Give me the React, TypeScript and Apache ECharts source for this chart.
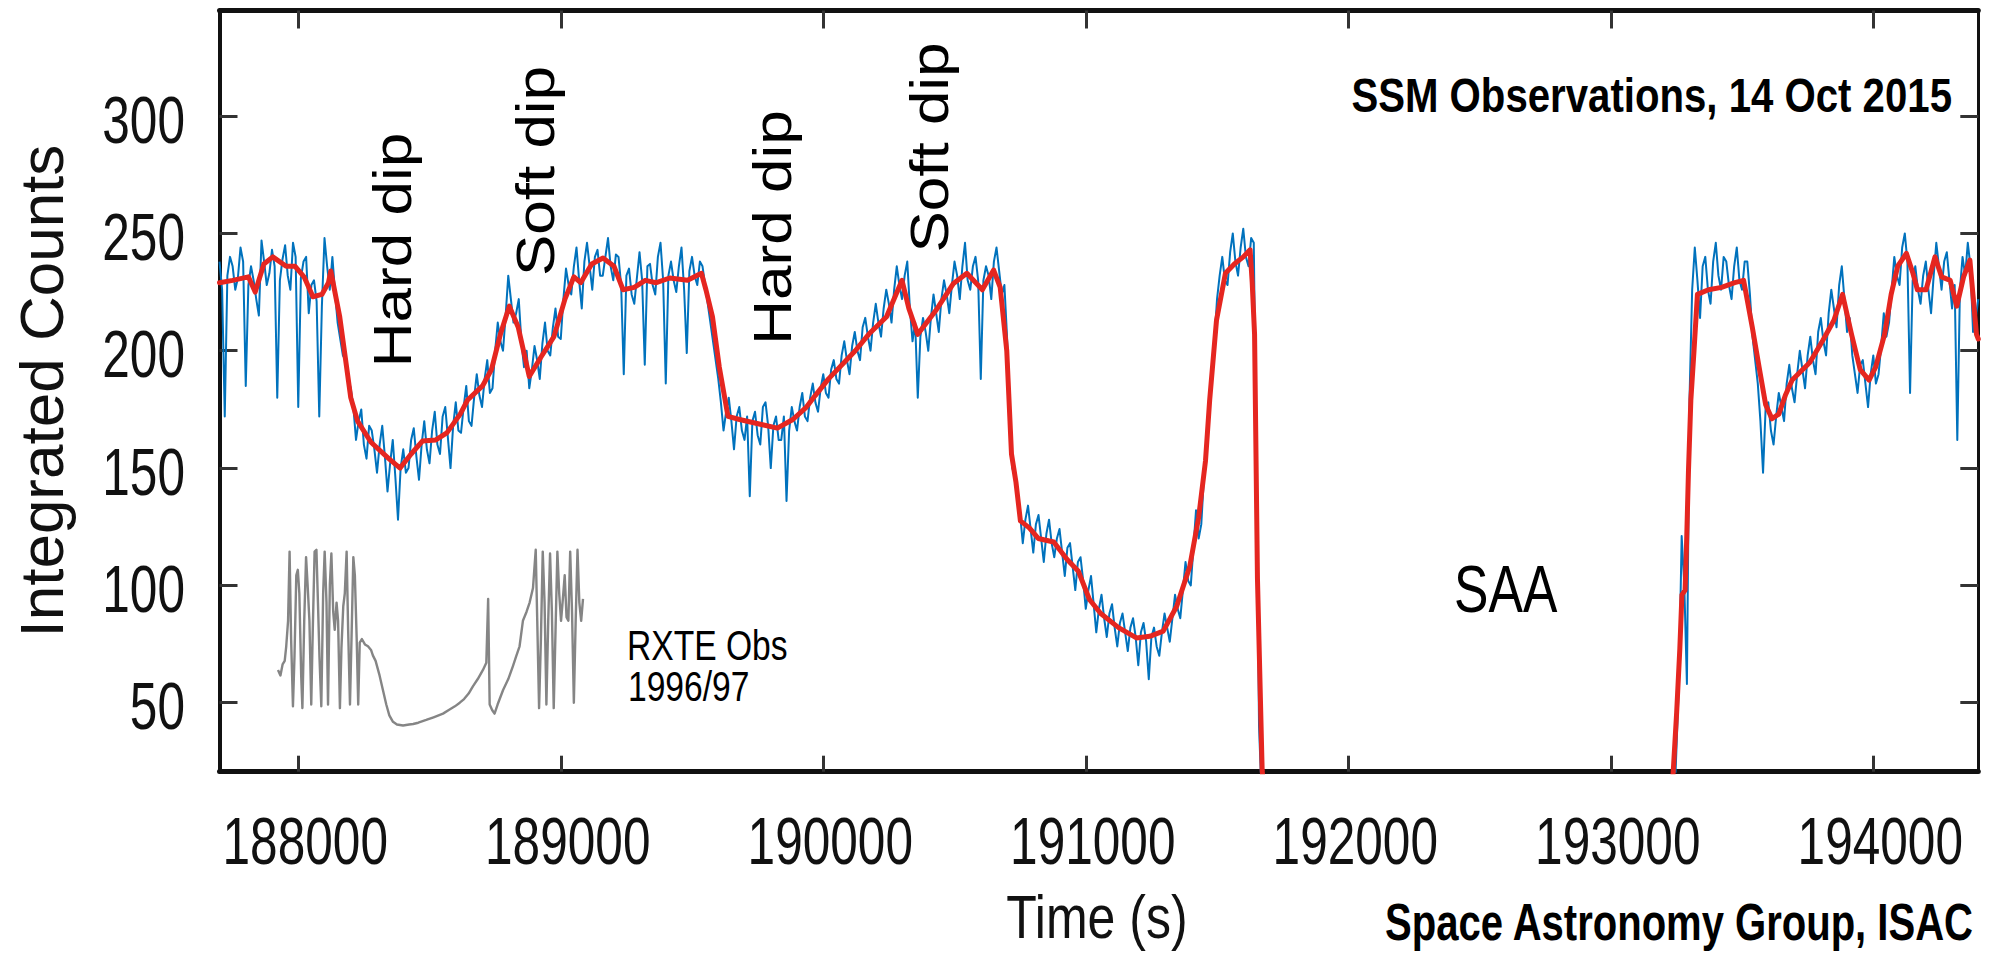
import React, { useEffect, useRef } from 'react';
import * as echarts from 'echarts';

// ---------- axis ranges and ticks ----------
const X_MIN = 187700;
const X_MAX = 194400;
const Y_MIN = 20.6;
const Y_MAX = 345;
const xTickValues = [188000, 189000, 190000, 191000, 192000, 193000, 194000];
const yTickValues = [50, 100, 150, 200, 250, 300];

// ---------- SSM raw light curve (blue), sampled every 10 s ----------
const BLUE_STEP = 10;
const blueAStart = 187700;
const blueA = [
  238, 226, 172, 232, 240, 236, 226, 231, 244, 238,
  185, 228, 236, 230, 222, 215, 247, 238, 228, 233,
  243, 236, 180, 230, 239, 245, 232, 226, 246, 240,
  176, 231, 238, 240, 216, 228, 230, 221, 172, 219,
  248, 236, 226, 240, 225, 212, 205, 198, 196, 188,
  184, 176, 162, 170, 175, 160, 154, 168, 166, 158,
  148, 160, 168, 155, 140, 152, 162, 146, 128, 150,
  158, 148, 150, 162, 167, 155, 145, 160, 170, 158,
  152, 166, 174, 160, 156, 172, 176, 163, 150, 168,
  178, 166, 165, 176, 185, 170, 168, 180, 190, 181,
  176, 188, 196, 182, 184, 200, 212, 204, 200, 215,
  232, 222, 212, 216, 222, 204, 193, 200, 184, 192,
  202, 196, 188, 203, 212, 200, 198, 210, 218, 206,
  205, 222, 235, 228, 224, 236, 244, 230, 218, 238,
  246, 236, 226, 240, 243, 232, 232, 240, 248, 236,
  230, 241, 240, 228, 190, 232, 235, 224, 220, 231,
  242, 230, 194, 236, 237, 228, 224, 240, 246, 230,
  186, 232, 238, 230, 225, 236, 244, 226, 199, 234,
  240, 232, 228, 238, 236, 228, 220, 212, 204, 196,
  188, 178, 166, 174, 180, 170, 158, 172, 176, 166,
  162, 172, 138, 170, 174, 164, 160, 176, 178, 168,
  150, 168, 172, 162, 162, 172, 136, 166, 176, 170,
  166, 176, 182, 172, 170, 180, 186, 178, 174, 184,
  190, 182, 180, 192, 196, 188, 186, 198, 204, 196,
  190, 202, 208, 200, 196, 210, 214, 206, 200, 212,
  220, 212, 206, 218, 226, 220, 212, 226, 236, 228,
  222, 232, 238, 218, 204, 212, 180, 206, 214, 208,
  200, 214, 224, 216, 208, 222, 230, 224, 216, 228,
  238, 232, 222, 236, 246, 230, 226, 236, 240, 230,
  188, 230, 236, 232, 222, 238, 244, 234, 224, 228,
  206, 178, 150, 146, 138, 130, 118, 128, 134, 124,
  114, 126, 130, 120, 110, 122, 128, 118, 112, 120,
  124, 114, 104, 116, 118, 108, 98, 110, 112, 102,
  90, 98, 104, 92, 80, 90, 96, 86, 78, 88,
  92, 82, 74, 84, 88, 80, 72, 82, 86, 78,
  66, 80, 84, 76, 60, 78, 82, 74, 70, 80,
  88, 82, 76, 86, 96, 90, 86, 98, 110, 102,
  100, 116, 132, 120, 126, 146, 160, 178, 192, 204,
  222, 232, 240, 230, 228, 242, 250, 238, 232, 244,
  252, 240, 236, 248, 246, 150, 40, 10, 0,
];
const blueBStart = 193240;
const blueB = [
  0, 30, 60, 121, 100, 58, 180, 226, 244, 230,
  214, 236, 240, 226, 220, 238, 246, 232, 226, 240,
  238, 228, 222, 236, 244, 230, 226, 238, 238, 224,
  206, 196, 186, 170, 148, 176, 178, 166, 160, 172,
  182, 176, 170, 186, 194, 184, 178, 190, 200, 192,
  184, 198, 206, 196, 190, 208, 214, 204, 198, 216,
  226, 218, 210, 228, 236, 222, 208, 214, 198, 190,
  182, 194, 196, 186, 176, 190, 198, 186, 190, 202,
  216, 206, 212, 226, 240, 232, 228, 244, 250, 238,
  182, 230, 236, 226, 220, 232, 238, 226, 216, 232,
  246, 236, 226, 238, 242, 230, 218, 228, 162, 226,
  240, 232, 246, 236, 208, 214, 222,
];

// ---------- smoothed curve (red) ----------
const redATimes = [
  187700, 187750, 187810, 187836, 187869, 187903, 187954, 187988, 188022, 188056,
  188090, 188115, 188124, 188158, 188200, 188226, 188277, 188345, 188388, 188430,
  188473, 188524, 188566, 188617, 188645, 188702, 188736, 188770, 188804, 188838,
  188880, 188923, 188974, 189016, 189050, 189076, 189118, 189161, 189203, 189237,
  189280, 189322, 189364, 189415, 189483, 189536, 189553, 189578, 189604, 189637,
  189681, 189748, 189825, 189884, 189936, 189970, 190020, 190122, 190173, 190241,
  190300, 190326, 190360, 190428, 190496, 190547, 190606, 190649, 190674, 190699,
  190717, 190734, 190751, 190785, 190819, 190878, 190929, 190972, 191014, 191057,
  191125, 191193, 191244, 191295, 191346, 191396, 191430, 191456, 191472, 191498,
  191532, 191566, 191600, 191626, 191634, 191643, 191654, 191672, 191690,
];
const redAValues = [
  229, 230, 231.5, 225, 237, 240, 236, 236, 231.5, 223,
  224, 229, 234, 214.5, 180, 170, 161, 154, 150, 156,
  161.5, 162, 165, 173, 179, 185, 192, 207, 219, 210,
  189, 197, 206, 222, 231.5, 229, 237, 239.5, 236, 226,
  227, 230, 229, 231, 230, 233, 226, 214.5, 193, 172,
  170.7, 169, 167, 170.7, 176, 181, 188, 200, 207, 214.5,
  230, 218, 207, 217, 228.7, 233, 226, 234.4, 227, 200,
  156, 144, 127.5, 124.5, 120, 118.5, 111, 106, 94, 88,
  82, 77.6, 78.3, 80.5, 91, 108, 129, 153, 179, 213,
  233, 237, 240, 243, 229, 207, 103, 21, 0,
];
const redBTimes = [
  193225, 193238, 193251, 193263, 193271, 193283, 193288, 193296, 193305, 193317,
  193330, 193372, 193422, 193472, 193506, 193539, 193565, 193590, 193614, 193640,
  193665, 193691, 193758, 193808, 193850, 193883, 193917, 193950, 193984, 194009,
  194043, 194068, 194093, 194126, 194151, 194168, 194201, 194235, 194260, 194293,
  194318, 194344, 194368, 194393, 194400,
];
const redBValues = [
  0, 21, 46, 73, 96, 98, 115, 149, 179, 200,
  224, 226, 227, 229, 230, 210, 193, 177, 171, 173,
  181, 187.5, 195, 204.5, 213, 224, 207, 192, 187.5, 193,
  207, 224, 236, 241.5, 233, 226, 226, 240, 231.5, 230,
  219, 231.5, 238.6, 207, 205,
];

// ---------- inset: RXTE light curve 1996/97 (arbitrary units 0-100) ----------
const insetX = [
  0, 0.8, 1.5, 2.2, 2.7, 3.3, 3.8, 4.3, 4.9, 5.4, 6, 6.5, 7, 7.6, 8, 8.6, 9.2, 9.7, 10.3, 10.9,
  11.4, 12, 12.6, 13.1, 13.6, 14.2, 14.8, 15.3, 15.9, 16.4, 17, 17.5, 18.1, 18.6, 19.2, 19.7, 20.3, 20.8, 21.4, 21.9,
  22.5, 23, 23.6, 24.1, 24.7, 25.2, 25.8, 26.3, 26.8, 27.5, 28.5, 29.5, 30.5, 31.1, 32, 33.3, 34.4, 35.5, 36.5, 37.7,
  39, 41, 43, 44.3, 46, 48.6, 51, 54.1, 56, 58, 59.6, 61, 62.5, 63.9, 65.5, 67.2, 68.3, 68.9, 69.4, 70.2,
  71, 72, 73.8, 75.5, 77, 78, 79.2, 80.3, 81.5, 82.5, 83.6, 84.5, 85, 85.6, 86.2, 86.8, 87.4, 88, 88.6, 89.2,
  89.8, 90.4, 91, 91.6, 92.2, 92.8, 93.4, 94, 94.6, 95.2, 95.8, 96.4, 97, 97.6, 98.2, 98.8, 99.4, 100,
];
const insetY = [
  33, 30, 36, 38, 46, 60, 98, 50, 13, 40, 85, 88, 75, 30, 12, 60, 95, 80, 60, 14,
  55, 98, 99, 70, 40, 13, 75, 98, 70, 14, 80, 97, 65, 55, 70, 60, 12, 45, 68, 75,
  98, 55, 14, 50, 95, 85, 50, 14, 48, 50, 47, 46, 44, 41, 38, 30, 22, 14, 8, 4.5,
  3, 2.5, 3, 3.3, 4, 5.5, 7, 9, 11, 13, 15, 17, 20, 24, 28, 33, 37, 72, 14, 11,
  9, 14, 22, 28, 35, 40, 46, 60, 65, 70, 78, 99, 60, 12, 50, 98, 70, 14, 60, 97,
  65, 12, 55, 98, 75, 60, 72, 85, 62, 60, 98, 65, 15, 60, 99, 70, 60, 72,
];

const FONT = 'Liberation Sans';

export default function App() {
  const ref = useRef<HTMLDivElement>(null);

  useEffect(() => {
    if (!ref.current) return;
    const chart = echarts.init(ref.current, null, { renderer: 'svg' });

    const blueData: any[] = [];
    blueA.forEach((v, i) => blueData.push([blueAStart + i * BLUE_STEP, v]));
    blueData.push([192400, '-']);
    blueB.forEach((v, i) => blueData.push([blueBStart + i * BLUE_STEP, v]));

    const redData: any[] = [];
    redATimes.forEach((t, i) => redData.push([t, redAValues[i]]));
    redData.push([192400, '-']);
    redBTimes.forEach((t, i) => redData.push([t, redBValues[i]]));

    const insetData = insetX.map((x, i) => [x, insetY[i]]);

    const axisLine = (w: number) => ({ show: true, onZero: false, lineStyle: { color: '#111', width: w } });
    const tick = (vals: number[], len: number) => ({
      show: true, inside: true, length: len, customValues: vals,
      lineStyle: { color: '#333', width: 3 },
    });

    const txt = (text: string, x: number, y: number, o: any) => ({
      type: 'text', x, y, z: 100, silent: true,
      scaleX: o.scaleX ?? 1, scaleY: o.scaleY ?? 1, rotation: o.rotation ?? 0,
      style: {
        text, fill: o.fill ?? '#000',
        fontSize: o.size, fontFamily: o.family ?? FONT, fontWeight: o.weight ?? 'normal',
        textAlign: o.align ?? 'center', textVerticalAlign: 'middle',
        align: o.align ?? 'center', verticalAlign: 'middle',
      },
    });

    const rot = { size: 62, rotation: Math.PI / 2, scaleY: 0.87, align: 'center' };

    const annotations = [
      txt('SSM Observations, 14 Oct 2015', 1952, 94.9, { size: 49, weight: 'bold', align: 'right', scaleX: 0.82 }),
      txt('SAA', 1505.7, 588.8, { size: 67, scaleX: 0.77 }),
      txt('RXTE Obs', 627, 645.3, { size: 42, align: 'left', scaleX: 0.8 }),
      txt('1996/97', 628, 687, { size: 42, align: 'left', scaleX: 0.8 }),
      txt('Space Astronomy Group, ISAC', 1973, 922, { size: 52, weight: 'bold', align: 'right', scaleX: 0.77 }),
      txt('Hard dip', 392, 250, rot),
      txt('Soft dip', 534.5, 171, rot),
      txt('Hard dip', 772, 227.5, rot),
      txt('Soft dip', 928.5, 147.5, rot),
    ];

    const option: any = {
      animation: false,
      backgroundColor: '#fff',
      grid: [
        { left: 219.5, right: 11.7, top: 10.5, bottom: 185.3, containLabel: false, outerBoundsMode: 'none', show: false },
        { left: 278, top: 548, width: 305, height: 182, containLabel: false, outerBoundsMode: 'none', show: false },
      ],
      xAxis: [
        {
          type: 'value', gridIndex: 0, position: 'bottom', min: X_MIN, max: X_MAX,
          axisLine: axisLine(5), axisTick: tick(xTickValues, 16),
          axisLabel: { show: false, customValues: xTickValues },
          splitLine: { show: false },
        },
        {
          type: 'value', gridIndex: 0, position: 'top', min: X_MIN, max: X_MAX,
          axisLine: axisLine(5), axisTick: tick(xTickValues, 18),
          axisLabel: { show: false }, splitLine: { show: false },
        },
        { type: 'value', gridIndex: 1, min: 0, max: 100, show: false },
      ],
      yAxis: [
        {
          type: 'value', gridIndex: 0, position: 'left', min: Y_MIN, max: Y_MAX,
          axisLine: axisLine(4), axisTick: tick(yTickValues, 18),
          axisLabel: { show: false, customValues: yTickValues },
          splitLine: { show: false },
          name: 'Integrated Counts', nameLocation: 'middle', nameGap: 147,
          nameTextStyle: { fontSize: 62, fontFamily: FONT, color: '#111' },
        },
        {
          type: 'value', gridIndex: 0, position: 'right', min: Y_MIN, max: Y_MAX,
          axisLine: axisLine(3), axisTick: tick(yTickValues, 18),
          axisLabel: { show: false }, splitLine: { show: false },
        },
        { type: 'value', gridIndex: 1, min: 0, max: 100, show: false },
      ],
      series: [
        {
          name: 'SSM counts', type: 'line', xAxisIndex: 0, yAxisIndex: 0, data: blueData,
          showSymbol: false, symbol: 'none', clip: true, silent: true, z: 2,
          lineStyle: { color: '#0072bd', width: 2, join: 'round' },
        },
        {
          name: 'Smoothed', type: 'line', xAxisIndex: 0, yAxisIndex: 0, data: redData,
          showSymbol: false, symbol: 'none', clip: true, silent: true, z: 3,
          lineStyle: { color: '#e52620', width: 5, join: 'round', cap: 'round' },
        },
        {
          name: 'RXTE', type: 'line', xAxisIndex: 2, yAxisIndex: 2, data: insetData,
          showSymbol: false, symbol: 'none', clip: false, silent: true, z: 1,
          lineStyle: { color: '#858585', width: 2.4, join: 'round' },
        },
      ],
      graphic: annotations,
    };

    chart.setOption(option);

    // Tick labels and x-axis title placed through the axes' own scales (condensed like the original).
    const extra: any[] = [];
    xTickValues.forEach((v) => {
      const px = chart.convertToPixel({ xAxisIndex: 0 }, v) as number;
      extra.push(txt(String(v), px + 7, 840.5, { size: 67, scaleX: 0.74, fill: '#111' }));
    });
    yTickValues.forEach((v) => {
      const py = chart.convertToPixel({ yAxisIndex: 0 }, v) as number;
      extra.push(txt(String(v), 185, py + 3.2, { size: 67, scaleX: 0.74, align: 'right', fill: '#111' }));
    });
    const midX = chart.convertToPixel({ xAxisIndex: 0 }, (X_MIN + X_MAX) / 2) as number;
    extra.push(txt('Time (s)', midX - 2, 917, { size: 61, scaleX: 0.82, fill: '#111' }));
    chart.setOption({ graphic: [...annotations, ...extra] });

    return () => chart.dispose();
  }, []);

  return (
    <div
      ref={ref}
      style={{ position: 'fixed', left: 0, top: 0, width: 1990, height: 957, background: '#fff' }}
    />
  );
}
